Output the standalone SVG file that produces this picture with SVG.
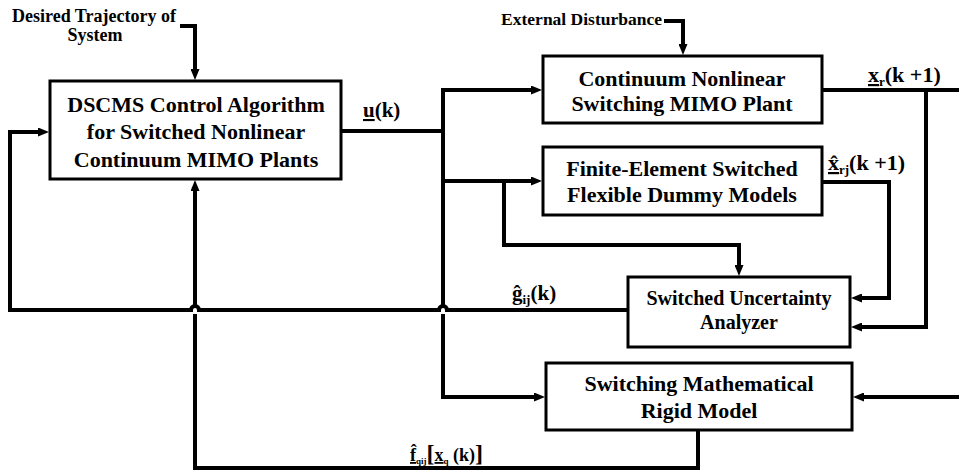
<svg xmlns="http://www.w3.org/2000/svg" width="959" height="471" viewBox="0 0 959 471">
<style>
.box{fill:#fff;stroke:#000;stroke-width:3}
.t{font-family:"Liberation Serif","Times New Roman",serif;font-weight:bold;fill:#000;text-anchor:middle;font-size:22px}
.w{fill:none;stroke:#000;stroke-width:4;stroke-linejoin:miter}
.a{marker-end:url(#ah)}
.lbl{font-family:"Liberation Serif","Times New Roman",serif;font-weight:bold;fill:#000}
</style>
<defs>
<marker id="ah" markerUnits="userSpaceOnUse" markerWidth="12" markerHeight="9" refX="2" refY="4.5" orient="auto" viewBox="0 0 12 9"><path d="M0,0 L11,4.5 L0,9 z" fill="#000"/></marker>
</defs>
<rect width="959" height="471" fill="#fff"/>
<g id="connectors">
<path class="w a" d="M180,26 H195 V71"/>
<path class="w a" d="M664,21 H683 V46"/>
<path class="w" d="M342,131 H443"/>
<path class="w a" d="M443,306 V90 H533"/>
<path class="w a" d="M443,181 H533"/>
<path class="w a" d="M443,314 V397 H536"/>
<path class="w a" d="M504,181 V245 H739 V267"/>
<path class="w" d="M822,90 H959"/>
<path class="w a" d="M926,90 V327 H860"/>
<path class="w a" d="M822,182 H889 V298 H860"/>
<path class="w a" d="M959,397 H862"/>
<path class="w" d="M698,430 V468 H195 V314"/>
<path class="w a" d="M195,306 V189"/>
<path class="w a" d="M628,310 H447 A4,4 0 0 0 439,310 H199 A4,4 0 0 0 191,310 H10 V132 H40"/>
</g>
<g id="labels">
<text class="lbl" x="12" y="22" font-size="18">Desired Trajectory of</text>
<text class="lbl" x="95" y="41" font-size="18" text-anchor="middle">System</text>
<text class="lbl" x="662" y="25" font-size="17.5" text-anchor="end">External Disturbance</text>
<text class="lbl" x="363" y="117" font-size="21"><tspan text-decoration="underline">u</tspan>(k)</text>
<text class="lbl" x="868" y="82" font-size="22"><tspan text-decoration="underline">x</tspan><tspan font-size="13" dy="4">r</tspan><tspan dy="-4">(k +1)</tspan></text>
<text class="lbl" x="828" y="170" font-size="22"><tspan text-decoration="underline">x̂</tspan><tspan font-size="13" dy="4">rj</tspan><tspan dy="-4">(k +1)</tspan></text>
<text class="lbl" x="512" y="300" font-size="21">ĝ<tspan font-size="13" dy="4">ij</tspan><tspan dy="-4">(k)</tspan></text>
<text class="lbl" x="410" y="461" font-size="18"><tspan text-decoration="underline">f̂</tspan><tspan font-size="9" dy="3">qij</tspan><tspan dy="-3" font-size="24">[</tspan><tspan text-decoration="underline">x</tspan><tspan font-size="9" dy="3">q</tspan><tspan dy="-3"> (k)</tspan><tspan font-size="24">]</tspan></text>
</g>
<g id="n-dscms">
<rect class="box" x="50" y="81" width="291" height="98"/>
<text class="t" x="196" y="112">DSCMS Control Algorithm</text>
<text class="t" x="196" y="139">for Switched Nonlinear</text>
<text class="t" x="196" y="167">Continuum MIMO Plants</text>
</g>
<g id="n-plant">
<rect class="box" x="543" y="56" width="279" height="67"/>
<text class="t" x="682" y="86">Continuum Nonlinear</text>
<text class="t" x="682" y="111">Switching MIMO Plant</text>
</g>
<g id="n-fe">
<rect class="box" x="543" y="147" width="279" height="68"/>
<text class="t" x="682" y="176">Finite-Element Switched</text>
<text class="t" x="682" y="202">Flexible Dummy Models</text>
</g>
<g id="n-analyzer">
<rect class="box" x="628" y="277" width="222" height="70"/>
<text class="t" x="739" y="305" style="font-size:20px">Switched Uncertainty</text>
<text class="t" x="739" y="329" style="font-size:20px">Analyzer</text>
</g>
<g id="n-rigid">
<rect class="box" x="546" y="363" width="306" height="67"/>
<text class="t" x="699" y="391">Switching Mathematical</text>
<text class="t" x="699" y="418">Rigid Model</text>
</g>
</svg>
